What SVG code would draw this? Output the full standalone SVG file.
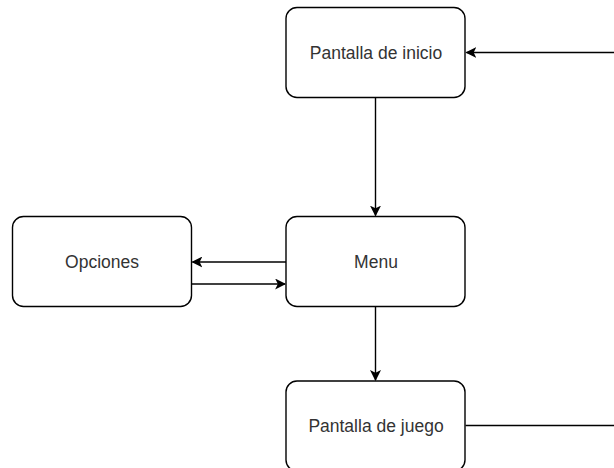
<svg xmlns="http://www.w3.org/2000/svg" width="614" height="468" viewBox="0 0 614 468">
<style>
.box{fill:#fff;stroke:#000;stroke-width:1.4}
.lbl{font-family:"Liberation Sans",Arial,sans-serif;font-size:17.5px;fill:#333;text-anchor:middle;dominant-baseline:central}
.edge{fill:none;stroke:#000;stroke-width:1.4}
</style>
<defs>
<marker id="arr" viewBox="0 0 10 10" refX="9" refY="5" markerWidth="11" markerHeight="11" markerUnits="userSpaceOnUse" orient="auto">
<path d="M0,0 L10,5 L0,10 L2.5,5 Z" fill="#000"/>
</marker>
</defs>
<rect width="614" height="468" fill="#fff"/>
<g id="connectors">
<path class="edge" d="M614,52.5 L466.5,52.5" marker-end="url(#arr)"/>
<path class="edge" d="M375.5,97.5 L375.5,215.5" marker-end="url(#arr)"/>
<path class="edge" d="M286,262 L192.5,262" marker-end="url(#arr)"/>
<path class="edge" d="M191.5,284 L285,284" marker-end="url(#arr)"/>
<path class="edge" d="M375.5,306.5 L375.5,380" marker-end="url(#arr)"/>
<path class="edge" d="M465.5,425.5 L614,425.5"/>
</g>
<g id="inicio">
<rect class="box" x="286" y="7.5" width="179" height="90" rx="11"/>
<text class="lbl" x="376" y="52.5">Pantalla de inicio</text>
</g>
<g id="menu">
<rect class="box" x="286" y="216.5" width="179" height="90" rx="11"/>
<text class="lbl" x="376" y="262">Menu</text>
</g>
<g id="opciones">
<rect class="box" x="12.5" y="216.5" width="179" height="90" rx="11"/>
<text class="lbl" x="102" y="262">Opciones</text>
</g>
<g id="juego">
<rect class="box" x="286" y="381" width="179" height="90" rx="11"/>
<text class="lbl" x="376" y="425.5">Pantalla de juego</text>
</g>
</svg>
